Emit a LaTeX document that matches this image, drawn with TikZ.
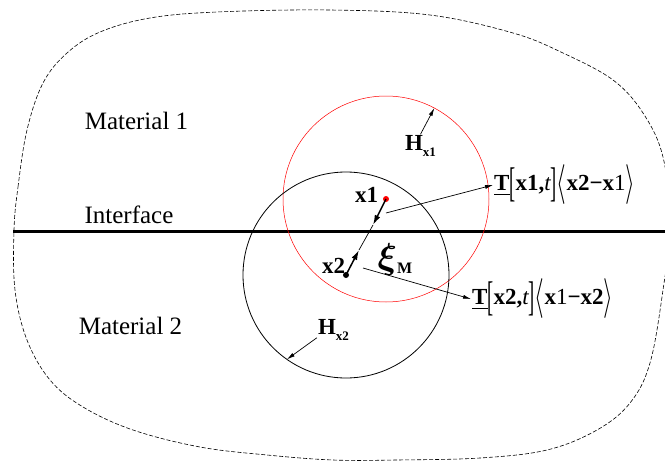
\documentclass[tikz,border=0pt]{standalone}
\usepackage{amsmath}
\usepackage{graphicx}
\usepackage{fontspec}
\setmainfont{Liberation Serif}
\usetikzlibrary{arrows.meta}

\newcommand{\lowsub}[1]{\raisebox{-6pt}{\fontsize{13}{13}\selectfont\bfseries #1}}
\newcommand{\tallbr}[1]{\raisebox{-6pt}{\scalebox{0.8}[1.8]{\mdseries #1}}}
\newcommand{\tallang}[1]{\raisebox{-4pt}{\scalebox{1}[1.6]{$#1$}}}

\begin{document}
\begin{tikzpicture}[x=1pt,y=-1pt,
		lbl/.style={font=\fontsize{25}{30}\selectfont},
		bf/.style={font=\fontsize{23}{28}\selectfont\bfseries,inner sep=1pt},
		ptr/.style={-{Latex[length=8pt,width=4pt]},line width=0.7pt},
		horizon/.style={draw,circle,minimum size=206pt,inner sep=0pt,outer sep=0pt}]
			\useasboundingbox (0,0) rectangle (665,463);
			\clip (0,0) rectangle (665,463);
			% body
			\draw[line width=0.6pt,dash pattern=on 4pt off 2pt] plot[smooth cycle,tension=0.6] coordinates {
				(14,230) (18,187) (27,130) (43,83) (67,53) (100,32) (150,18) (217,12) (330,10)
				(430,15) (513,33) (563,53) (613,80) (643,113) (663,157) (670,225) (663,290)
				(650,363) (630,403) (597,430) (547,450) (480,458) (397,460) (333,460) (267,455)
				(200,447) (133,430) (83,407) (50,380) (27,340) (15,290)};
			\draw[line width=3pt] (13,231) -- (665,231);
			% material points and horizons
			\coordinate (x1) at (386,199);
			\coordinate (x2) at (346,275);
			\node[horizon,draw=red,line width=0.5pt] (Hx1c) at (x1) {};
			\node[horizon,line width=0.8pt] (Hx2c) at (x2) {};
			\fill[red] (x1) circle (3pt);
			\fill (x2) circle (3pt);
			% bond
			\coordinate (m1) at (373,225);
			\coordinate (m2) at (359,250);
			\draw[line width=0.7pt] (m1) -- (m2);
			\draw[-{Latex[length=10pt,width=6pt]},line width=1.5pt] (x1) -- (m1);
			\draw[-{Latex[length=10pt,width=6pt]},line width=1.5pt] (x2) -- (m2);
			% labels
			\node[lbl] (mat1) at (136.5,121) {Material 1};
			\node[lbl] (iface) at (129,215) {Interface};
			\node[lbl] (mat2) at (130.5,326) {Material 2};
			\node[bf] (x1lab) at (366.5,195) {x1};
			\node[bf] (x2lab) at (333.5,266) {x2};
			\node[bf] (xi) at (395,259) {\scalebox{1.45}{$\boldsymbol{\xi}$}\raisebox{-5pt}{\fontsize{16}{16}\selectfont\upshape M}};
			\node[bf] (Hx1) at (420.5,146) {H\lowsub{x1}};
			\node[bf] (Hx2) at (333.5,330) {H\lowsub{x2}};
			\draw[ptr] (Hx1.north) -- (Hx1c.62);
			\draw[ptr] (Hx2.205) -- (Hx2c.235);
			% force states
			\coordinate (x1t) at (386,213);
			\coordinate (x2t) at (363,268);
			\node[bf,anchor=west] (T1) at (493,185) {\underline{T}\tallbr{[}x1,{\mdseries\itshape t}\tallbr{]}\tallang{\langle}x2−x{\mdseries 1}\tallang{\rangle}};
			\node[bf,anchor=west] (T2) at (471,299) {\underline{T}\tallbr{[}x2,{\mdseries\itshape t}\tallbr{]}\tallang{\langle}x{\mdseries 1}−x2\tallang{\rangle}};
			\draw[ptr] (x1t) -- (T1.west);
			\draw[ptr] (x2t) -- (T2.west);
		\end{tikzpicture}
\end{document}
